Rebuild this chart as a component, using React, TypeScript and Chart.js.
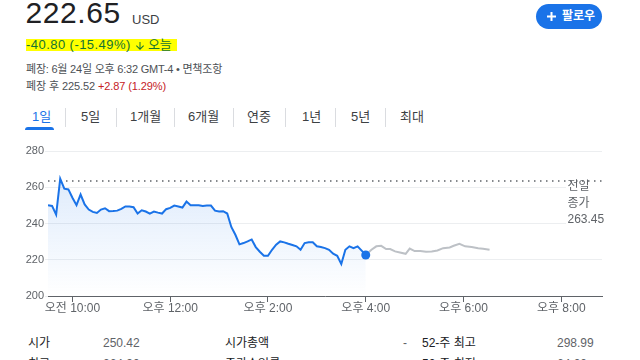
import React, { useEffect, useRef } from 'react';
import { Chart, registerables } from 'chart.js';

Chart.register(...registerables);

// ---------- data ----------
const sessionTimes = [
  570, 575, 580, 585, 590, 595, 600, 605, 610, 615, 620, 625, 630, 635, 640, 645,
  650, 655, 660, 665, 670, 675, 680, 685, 690, 695, 700, 705, 710, 715, 720, 725,
  730, 735, 740, 745, 750, 755, 760, 765, 770, 775, 780, 785, 790, 795, 800, 805,
  810, 815, 820, 825, 830, 835, 840, 845, 850, 855, 860, 865, 870, 875, 880, 885,
  890, 895, 900, 905, 910, 915, 920, 925, 930, 935, 940, 945, 950, 955, 960,
];
const sessionPrices = [
  250.1, 249.7, 244.9, 264.7, 259.2, 258.8, 254.2, 250.1, 256.0, 250.5, 247.7, 246.4, 245.8, 247.7, 248.4, 246.8,
  246.9, 247.1, 248.1, 249.4, 249.4, 249.0, 245.5, 247.3, 246.6, 245.5, 246.6, 246.0, 245.5, 247.9, 248.6, 249.9,
  249.4, 248.8, 252.1, 250.1, 250.1, 250.1, 249.7, 249.9, 249.9, 247.1, 246.6, 246.8, 245.5, 238.1, 233.8, 228.5,
  229.2, 230.1, 231.2, 227.0, 224.4, 222.2, 222.2, 225.5, 228.3, 230.1, 229.6, 228.8, 228.1, 227.4, 225.5, 229.2,
  229.6, 229.6, 227.4, 227.0, 226.4, 225.5, 223.3, 222.2, 217.7, 225.5, 227.4, 226.4, 227.4, 225.0, 222.65,
];
const afterTimes = [
  960, 967, 973, 979, 985, 990, 996, 1002, 1009, 1014, 1020, 1027, 1034, 1041, 1048, 1055,
  1063, 1068, 1075, 1082, 1090, 1098, 1104, 1112,
];
const afterPrices = [
  222.65, 225.5, 227.4, 227.7, 225.9, 225.9, 224.6, 224.0, 223.3, 226.2, 224.8, 224.8, 224.4, 224.6, 225.1, 226.4,
  226.8, 227.7, 228.8, 227.4, 227.0, 226.4, 226.1, 225.52,
];
const prevClose = 263.45;
const lastPrice = 222.65;
const lastTime = 960;
const xMin = 570;
const xMax = 1250;
const xTickValues = [600, 720, 840, 960, 1080, 1200];
const xTickLabels = ['오전 10:00', '오후 12:00', '오후 2:00', '오후 4:00', '오후 6:00', '오후 8:00'];
const yMin = 200;
const yMax = 280;
const yStep = 20;

const tabLabels = ['1일', '5일', '1개월', '6개월', '연중', '1년', '5년', '최대'];
const statRow1 = ['시가', '250.42', '시가총액', '-', '52-주 최고', '298.99'];
const statRow2 = ['최고', '264.90', '주가수익률', '-', '52-주 최저', '64.00'];

// ---------- layout ----------
const FONT = 'Arial, "Liberation Sans", "Noto Sans CJK KR", sans-serif';
const tabX = [32, 81, 130, 188, 247, 302, 351, 400];
const sepX = [65, 116, 174, 233, 285, 335, 385];
const statX = [28, 103, 225, 403, 422, 557];

function T(props: any) {
  const { x, b, size, color = '#202124', weight = 400, ls = 0, children } = props;
  const top = b - 0.8465 * size;
  return (
    <div
      style={{
        position: 'absolute',
        left: x,
        top,
        fontSize: size,
        lineHeight: size + 'px',
        height: size,
        color,
        fontWeight: weight,
        letterSpacing: ls,
        whiteSpace: 'nowrap',
      }}
    >
      {children}
    </div>
  );
}

function PriceChart() {
  const ref = useRef<HTMLCanvasElement | null>(null);
  useEffect(() => {
    if (!ref.current) return;
    const session = sessionTimes.map((t, i) => ({ x: t, y: sessionPrices[i] }));
    const after = afterTimes.map((t, i) => ({ x: t, y: afterPrices[i] }));
    const chart = new Chart(ref.current, {
      type: 'line',
      data: {
        datasets: [
          {
            data: [{ x: lastTime, y: lastPrice }],
            showLine: false,
            pointRadius: 4.5,
            pointBackgroundColor: '#1a73e8',
            pointBorderWidth: 0,
            order: 0,
          },
          {
            data: session,
            borderColor: '#1a73e8',
            borderWidth: 2,
            pointRadius: 0,
            tension: 0,
            fill: 'start',
            backgroundColor: (ctx: any) => {
              const c = ctx.chart;
              const ys = c.scales && c.scales.y;
              if (!c.chartArea || !ys) return 'rgba(26,115,232,0.08)';
              const g = c.ctx.createLinearGradient(0, ys.getPixelForValue(265), 0, ys.getPixelForValue(200));
              g.addColorStop(0, 'rgba(26,115,232,0.14)');
              g.addColorStop(1, 'rgba(26,115,232,0.0)');
              return g;
            },
            order: 1,
          },
          {
            data: after,
            borderColor: '#bdc1c6',
            borderWidth: 2,
            pointRadius: 0,
            tension: 0,
            fill: false,
            order: 2,
          },
          {
            data: [
              { x: xMin, y: prevClose },
              { x: xMax, y: prevClose },
            ],
            borderColor: '#5f6368',
            borderWidth: 1.5,
            borderDash: [1.5, 4.5],
            pointRadius: 0,
            fill: false,
            order: 3,
          },
        ],
      },
      options: {
        animation: false,
        responsive: false,
        maintainAspectRatio: false,
        layout: { padding: { top: 11, right: 38, left: 0, bottom: 0 } },
        plugins: { legend: { display: false }, tooltip: { enabled: false } },
        scales: {
          x: {
            type: 'linear',
            min: xMin,
            max: xMax,
            afterBuildTicks: (s: any) => {
              s.ticks = xTickValues.map((v) => ({ value: v }));
            },
            afterFit: (s: any) => {
              s.height = 24;
            },
            ticks: {
              autoSkip: false,
              maxRotation: 0,
              color: '#5f6368',
              font: { family: FONT, size: 12 },
              padding: -1,
              callback: (v: any) => {
                const i = xTickValues.indexOf(Number(v));
                return i >= 0 ? xTickLabels[i] : '';
              },
            },
            grid: { drawOnChartArea: false, drawTicks: true, tickLength: 6, color: '#5f6368' },
            border: { display: true, color: '#5f6368', width: 1 },
          },
          y: {
            min: yMin,
            max: yMax,
            afterFit: (s: any) => {
              s.width = 48;
            },
            ticks: {
              stepSize: yStep,
              color: '#5f6368',
              font: { family: FONT, size: 11 },
              padding: 1,
            },
            grid: { color: '#eceef0', drawTicks: true, tickLength: 3, tickColor: '#eceef0' },
            border: { display: false },
          },
        },
      },
    } as any);
    return () => chart.destroy();
  }, []);
  return (
    <canvas
      ref={ref}
      width={640}
      height={180}
      style={{ position: 'absolute', left: 0, top: 140, width: 640, height: 180 }}
    />
  );
}

export default function App() {
  return (
    <div
      style={{
        position: 'fixed',
        left: 0,
        top: 0,
        width: 640,
        height: 360,
        overflow: 'hidden',
        background: '#fff',
        fontFamily: FONT,
      }}
    >
      {/* price header */}
      <T x={25.5} b={23.5} size={30} ls={0.6}>222.65</T>
      <T x={132} b={24} size={13} color="#3c4043">USD</T>
      <div style={{ position: 'absolute', left: 26, top: 39, width: 151, height: 12, background: '#ffff00' }} />
      <T x={26} b={49} size={13} color="#137333" ls={0.45}>-40.80 (-15.49%)</T>
      <svg
        style={{ position: 'absolute', left: 134, top: 39.5 }}
        width={12}
        height={12}
        viewBox="0 0 24 24"
      >
        <path fill="#137333" d="M20 12l-1.41-1.41L13 16.17V4h-2v12.17l-5.58-5.59L4 12l8 8 8-8z" />
      </svg>
      <T x={148} b={49} size={13} color="#137333" ls={-0.3}>오늘</T>
      <T x={26} b={73.5} size={11} color="#4d5156" ls={-0.22}>폐장: 6월 24일 오후 6:32 GMT-4 • 면책조항</T>
      <T x={26} b={90.5} size={11} color="#4d5156" ls={-0.1}>
        폐장 후 225.52 <span style={{ color: '#c5221f' }}>+2.87 (1.29%)</span>
      </T>

      {/* follow button */}
      <div
        style={{
          position: 'absolute',
          left: 536,
          top: 4,
          width: 66,
          height: 25,
          borderRadius: 12.5,
          background: '#1a73e8',
        }}
      />
      <svg style={{ position: 'absolute', left: 546.5, top: 12 }} width={9} height={9} viewBox="0 0 9 9">
        <path d="M4.5 0v9M0 4.5h9" stroke="#fff" strokeWidth={2} />
      </svg>
      <T x={562} b={20.5} size={12} color="#fff" weight={700}>팔로우</T>

      {/* tabs */}
      {tabLabels.map((t, i) => (
        <T key={t} x={tabX[i]} b={121} size={13} color={i === 0 ? '#1a73e8' : '#3c4043'}>
          {t}
        </T>
      ))}
      {sepX.map((x) => (
        <div key={x} style={{ position: 'absolute', left: x, top: 108, width: 1, height: 19, background: '#dadce0' }} />
      ))}
      <div
        style={{
          position: 'absolute',
          left: 25,
          top: 127,
          width: 29,
          height: 3,
          borderRadius: '3px 3px 0 0',
          background: '#1a73e8',
        }}
      />

      {/* chart */}
      <PriceChart />
      <div style={{ position: 'absolute', left: 566, top: 184, width: 74, height: 42, background: '#fff' }} />
      <T x={567.5} b={190.5} size={12} color="#5f6368">전일</T>
      <T x={567.5} b={207} size={12} color="#5f6368">종가</T>
      <T x={567.5} b={223} size={12} color="#5f6368">{prevClose.toFixed(2)}</T>

      {/* stats */}
      {statRow1.map((s, i) => (
        <T key={'a' + i} x={statX[i]} b={347.5} size={12} color={i % 2 === 0 ? '#202124' : '#5f6368'}>
          {s}
        </T>
      ))}
      {statRow2.map((s, i) => (
        <T key={'b' + i} x={statX[i]} b={368} size={12} color={i % 2 === 0 ? '#202124' : '#5f6368'}>
          {s}
        </T>
      ))}
    </div>
  );
}
